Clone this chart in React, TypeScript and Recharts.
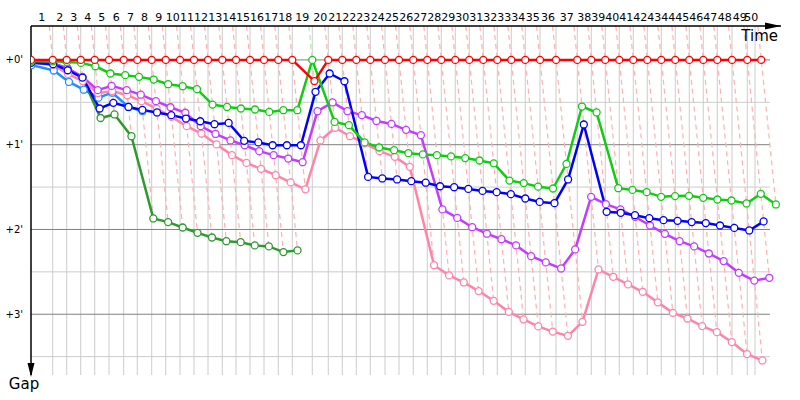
import React from "react";
import { LineChart, Line, XAxis, YAxis } from "recharts";

// leader crossing time (s) at the end of each lap, index = lap (0 = start)
const leaderTimes = [
  0, 152, 250, 348, 446, 546, 649, 744, 845, 943,
  1043, 1141, 1239, 1339, 1435, 1533, 1631, 1731, 1829, 1969,
  2081, 2179, 2277, 2375, 2478, 2576, 2676, 2774, 2872, 2970,
  3068, 3166, 3264, 3362, 3460, 3563, 3675, 3824, 3922, 4020,
  4118, 4216, 4314, 4412, 4510, 4608, 4706, 4804, 4907, 5014, 5112,
];
const raceEnd = 5068;
const gridEnd = 5173;

const lapLabels = Array.from({ length: 50 }, (_, i) => String(i + 1));
const gapTicks = [0, 60, 120, 180];
const gapMinorTicks = [30, 90, 150, 210];

// gap to the leader (s) at each lap
const redGaps = [
  0, 0, 0, 0, 0, 0, 0, 0, 0, 0, 0, 0, 0, 0, 0, 0, 0, 0, 0, 15,
  0, 0, 0, 0, 0, 0, 0, 0, 0, 0, 0, 0, 0, 0, 0, 0, 0, 0, 0, 0,
  0, 0, 0, 0, 0, 0, 0, 0, 0, 0, 0,
];
const greenGaps = [
  1, 1, 1.4, 2.1, 4.5, 9.6, 10.8, 12, 13.9, 17.2,
  18.6, 20.7, 31.6, 33.3, 34.4, 35.1, 36.8, 35.6, 35.6, 0,
  43.9, 46.2, 58.4, 62, 63.9, 66, 66.9, 67.4, 68.3, 69.5,
  71.2, 73.2, 85.4, 87.2, 89.7, 91, 73.6, 33, 37.2, 90.8,
  92, 93.6, 96.9, 96.4, 96.2, 97.6, 98.8, 99.5, 101.6, 94.8, 102.3,
];
const blueGaps = [
  2, 3, 7.3, 12.5, 34.4, 30.4, 33.3, 35.4, 37.2, 39.1,
  41.5, 43.4, 45.5, 44.6, 57.3, 58.4, 60.4, 60.4, 60.4, 22.6,
  9.6, 15.1, 82.8, 83.9, 84.6, 85.8, 86.9, 89.4, 90.1, 91.3,
  92.7, 93.6, 95, 98.1, 100.5, 101.4, 84.6, 45.7, 107.5, 108.2,
  109.9, 112, 113.4, 113.9, 114.8, 115.5, 117.2, 118.9, 120.7, 114.3,
];
const purpleGaps = [
  1.3, 2.3, 5.9, 12, 21.4, 18.4, 21.4, 24.6, 29.2, 33.5,
  37.4, 46.9, 52.4, 57, 60.4, 64.6, 67.4, 69.8, 72.4, 36.3,
  30.1, 36.3, 39.1, 43.2, 45.3, 49.5, 53.3, 105.8, 111.8, 118.4,
  123, 126.9, 131.3, 138.9, 143.3, 147.6, 134.1, 96.9, 102.1, 105.8,
  111.1, 117.2, 123.1, 128.3, 132, 137, 142.4, 150.7, 156.2, 154.2,
];
const pinkGaps = [
  1.6, 3.7, 10, 15, 23.5, 22, 25, 29.2, 34.4, 40.3,
  46.9, 52.1, 59.8, 67.4, 72.9, 77.1, 81.6, 86.7, 91.6, 57,
  48, 54, 59.1, 64.6, 68.6, 75.7, 145.3, 152.5, 157.5, 163.6,
  170.5, 178.3, 183.6, 188.6, 192.3, 195.3, 185.4, 148.3, 153.5, 158.9,
  164.1, 171.6, 179, 183, 188.4, 192.7, 199.7, 208.2, 212.7,
];
const darkGreenGaps = [
  1.6, 2.3, 6.6, 12.8, 41.1, 38.6, 54, 112.2, 114.8, 118.6,
  122.4, 125.7, 128.3, 129, 131.3, 132, 136, 134.8,
];
const lightBlueGaps = [3.7, 7.5, 15.6, 21.1, 26.7, 23.2, 33.3, 36.3];

const cars = [
  { name: "lightBlue", color: "#1e90ff", pale: "#a8d4ff", gaps: lightBlueGaps },
  { name: "darkGreen", color: "#2e9a2e", pale: "#b0dcb0", gaps: darkGreenGaps },
  { name: "pink", color: "#ff85a8", pale: "#ffcadb", gaps: pinkGaps },
  { name: "purple", color: "#c43cff", pale: "#e8b8ff", gaps: purpleGaps },
  { name: "blue", color: "#0000ff", pale: "#b0b0ff", gaps: blueGaps },
  { name: "green", color: "#11cc11", pale: "#a8eca8", gaps: greenGaps },
  { name: "red", color: "#ff0000", pale: "#ffb0b0", gaps: redGaps },
];

const GAP_MIN = -24;
const GAP_MAX = 223;

const seriesData = cars.map((c) => ({
  ...c,
  points: c.gaps.map((g, lap) => ({ t: leaderTimes[lap] + g, gap: g })),
}));

// dashed line joining every car's crossing of the same lap
const lapLines = leaderTimes.slice(1).map((lt, i) => {
  const lap = i + 1;
  const onLap = cars.filter((c) => lap < c.gaps.length);
  const deepest = Math.max(...onLap.map((c) => c.gaps[lap]));
  const leader = onLap.find((c) => c.gaps[lap] === 0) || cars[cars.length - 1];
  return {
    lap,
    color: leader.pale,
    points: [
      { t: lt + GAP_MIN, gap: GAP_MIN },
      { t: lt + deepest, gap: deepest },
    ],
  };
});

const lapBounds = [...leaderTimes.slice(0, 50), raceEnd];
const verticalGrid = [...leaderTimes.slice(1, 50), raceEnd];
const lapTickPos = lapLabels.map((_, i) => (lapBounds[i] + lapBounds[i + 1]) / 2);

const FONT = "'DejaVu Sans', sans-serif";

function TimeMark(props: any) {
  const vb = props.viewBox;
  if (!vb) return null;
  const ax = vb.x + vb.width;
  const ay = vb.y + vb.height;
  return (
    <g>
      <polygon points={`${ax - 16},${ay - 3.5} ${ax},${ay} ${ax - 16},${ay + 3.5}`} fill="#000" />
      <text x={ax - 3} y={ay + 15} textAnchor="end" fontSize={15} fontFamily={FONT} fill="#000">
        Time
      </text>
    </g>
  );
}

function GapMark(props: any) {
  const vb = props.viewBox;
  if (!vb) return null;
  const ax = vb.x + vb.width;
  const ay = vb.y + vb.height;
  return (
    <g>
      <polygon points={`${ax - 3.5},${ay - 12} ${ax},${ay + 2} ${ax + 3.5},${ay - 12}`} fill="#000" />
      <text x={ax - 7} y={ay + 14} textAnchor="middle" fontSize={15} fontFamily={FONT} fill="#000">
        Gap
      </text>
    </g>
  );
}

export default function App() {
  return (
    <div style={{ position: "absolute", left: 0, top: 0, width: 800, height: 400, background: "#fff", fontFamily: FONT }}>
      <LineChart width={800} height={400} margin={{ top: 0, right: 19, bottom: 25, left: 0 }}>
        <XAxis
          xAxisId={0}
          type="number"
          dataKey="t"
          orientation="top"
          domain={[0, 5250]}
          allowDataOverflow
          ticks={lapTickPos}
          interval={0}
          tickFormatter={(_v: number, i: number) => lapLabels[i]}
          tickLine={false}
          tickSize={0}
          tickMargin={5}
          height={26}
          axisLine={{ stroke: "#000", strokeWidth: 1.5 }}
          tick={{ fontSize: 11, fill: "#000", fontFamily: FONT }}
          label={(p: any) => <TimeMark {...p} />}
        />
        <YAxis
          yAxisId={0}
          type="number"
          dataKey="gap"
          reversed
          domain={[GAP_MIN, GAP_MAX]}
          allowDataOverflow
          ticks={gapTicks}
          interval={0}
          tickFormatter={(v: number) => `+${v / 60}'`}
          tickLine={false}
          tickSize={0}
          tickMargin={8}
          width={31}
          axisLine={{ stroke: "#000", strokeWidth: 1.5 }}
          tick={{ fontSize: 10, fill: "#000", fontFamily: FONT }}
          label={(p: any) => <GapMark {...p} />}
        />

        {verticalGrid.map((t, i) => (
          <Line
            key={`v-${i}`}
            data={[{ t, gap: GAP_MIN }, { t, gap: GAP_MAX }]}
            dataKey="gap"
            stroke="#cccccc"
            strokeWidth={1}
            dot={false}
            activeDot={false}
            isAnimationActive={false}
          />
        ))}
        {gapMinorTicks.map((g) => (
          <Line
            key={`hm-${g}`}
            data={[{ t: 0, gap: g }, { t: gridEnd, gap: g }]}
            dataKey="gap"
            stroke="#cccccc"
            strokeWidth={1}
            dot={false}
            activeDot={false}
            isAnimationActive={false}
          />
        ))}
        {gapTicks.map((g) => (
          <Line
            key={`hM-${g}`}
            data={[{ t: 0, gap: g }, { t: gridEnd, gap: g }]}
            dataKey="gap"
            stroke="#808080"
            strokeWidth={1}
            dot={false}
            activeDot={false}
            isAnimationActive={false}
          />
        ))}
        {lapLines.map((l) => (
          <Line
            key={`lap-${l.lap}`}
            data={l.points}
            dataKey="gap"
            stroke={l.color}
            strokeWidth={1.2}
            strokeDasharray="5 4"
            dot={false}
            activeDot={false}
            isAnimationActive={false}
          />
        ))}
        {seriesData.map((s) => (
          <Line
            key={s.name}
            data={s.points}
            dataKey="gap"
            name={s.name}
            type="linear"
            stroke={s.color}
            strokeWidth={2.5}
            dot={{ r: 3.5, fill: "#fff", stroke: s.color, strokeWidth: 1.3 }}
            activeDot={false}
            isAnimationActive={false}
          />
        ))}
      </LineChart>
    </div>
  );
}
